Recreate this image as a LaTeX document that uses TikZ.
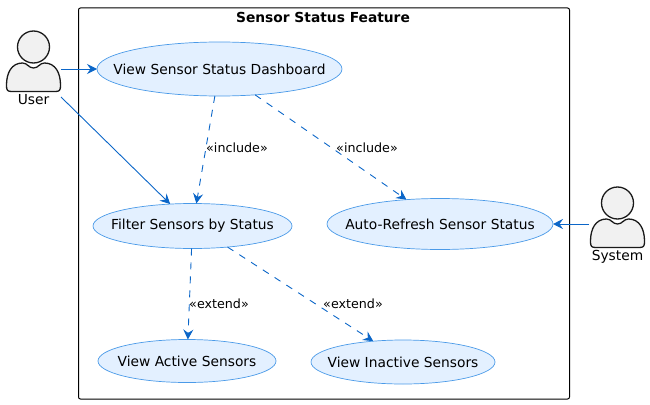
\documentclass[tikz,border=0pt]{standalone}
\usepackage{fontspec}
\setmainfont{DejaVu Sans}
\usetikzlibrary{arrows.meta,shapes.geometric}
\definecolor{usecasefill}{HTML}{E3F0FF}
\definecolor{usecaseline}{HTML}{4A9AE8}
\definecolor{linkline}{HTML}{0B66C8}
\definecolor{actorfill}{HTML}{F1F1F1}
\definecolor{actorline}{HTML}{1A1A1A}
\newcommand{\actorbody}[1]{%
  \draw [actorstyle,shift={(#1)}] (-27,38) .. controls (-27,26) and (-22,16) .. (-11,16)
    .. controls (-6,16) and (-5,21) .. (0,21) .. controls (5,21) and (6,16) .. (11,16)
    .. controls (22,16) and (27,26) .. (27,38) -- (27,39)
    .. controls (27,43) and (26,44.5) .. (22,44.5) -- (-22,44.5)
    .. controls (-26,44.5) and (-27,43) .. (-27,39) -- cycle;}
\begin{document}
\begin{tikzpicture}[%
	x=1pt,y=-1pt,
	every node/.style = {font=\fontsize{13.8}{16}\selectfont,text=black,inner sep=0pt,outer sep=0pt},
	actorstyle/.style={draw=actorline,fill=actorfill,line width=1.3pt},
	usecase/.style={shape=ellipse,draw=usecaseline,fill=usecasefill,line width=0.7pt,label={center:#1}},
	link/.style={draw=linkline,line width=0.9pt,-{Stealth[length=10pt,width=10pt,inset=3.5pt]}},
	dashlink/.style={link,dash pattern=on 7pt off 7pt},
	stereo/.style={font=\fontsize{12.7}{15}\selectfont}
	]
  \useasboundingbox (0,0) rectangle (650,404);
  \draw [rounded corners=2pt,line width=1pt,draw=black] (78.5,8) rectangle (569.5,399);
  \node (title) at (323,17) {\bfseries Sensor Status Feature};

  % use cases
  \node [usecase={View Sensor Status Dashboard},minimum width=245pt,minimum height=54pt] (dashboard) at (219.5,69) {};
  \node [usecase={Filter Sensors by Status},minimum width=199pt,minimum height=45pt] (filter) at (192.5,226) {};
  \node [usecase={Auto-Refresh Sensor Status},minimum width=226pt,minimum height=51pt] (refresh) at (440,224) {};
  \node [usecase={View Active Sensors},minimum width=178pt,minimum height=43pt] (active) at (187,361) {};
  \node [usecase={View Inactive Sensors},minimum width=184pt,minimum height=44pt] (inactive) at (403,362) {};

  % actors
  \actorbody{33.5,47}
  \node [circle,actorstyle,minimum size=32pt] (userhead) at (33.5,47) {};
  \node (user) at (33.5,100) {User};
  \actorbody{617.5,203}
  \node [circle,actorstyle,minimum size=32pt] (systemhead) at (617.5,203) {};
  \node (system) at (617.5,257) {System};
  \coordinate (userout) at (61,69);
  \coordinate (userlow) at (61,97);
  \coordinate (systemout) at (589,224);

  % connectors
  \draw [link] (userout) -- (dashboard);
  \draw [link] (userlow) -- (filter);
  \draw [link] (systemout) -- (refresh);
  \draw [dashlink] (dashboard) -- (filter);
  \draw [dashlink] (dashboard.324) -- (refresh.144);
  \draw [dashlink] (filter) -- (active);
  \draw [dashlink] (filter.329) -- (inactive.145);

  \node [stereo] (inc1) at (237,147.7) {«include»};
  \node [stereo] (inc2) at (367,147.7) {«include»};
  \node [stereo] (ext1) at (219,303.7) {«extend»};
  \node [stereo] (ext2) at (353,303.7) {«extend»};
\end{tikzpicture}
\end{document}
